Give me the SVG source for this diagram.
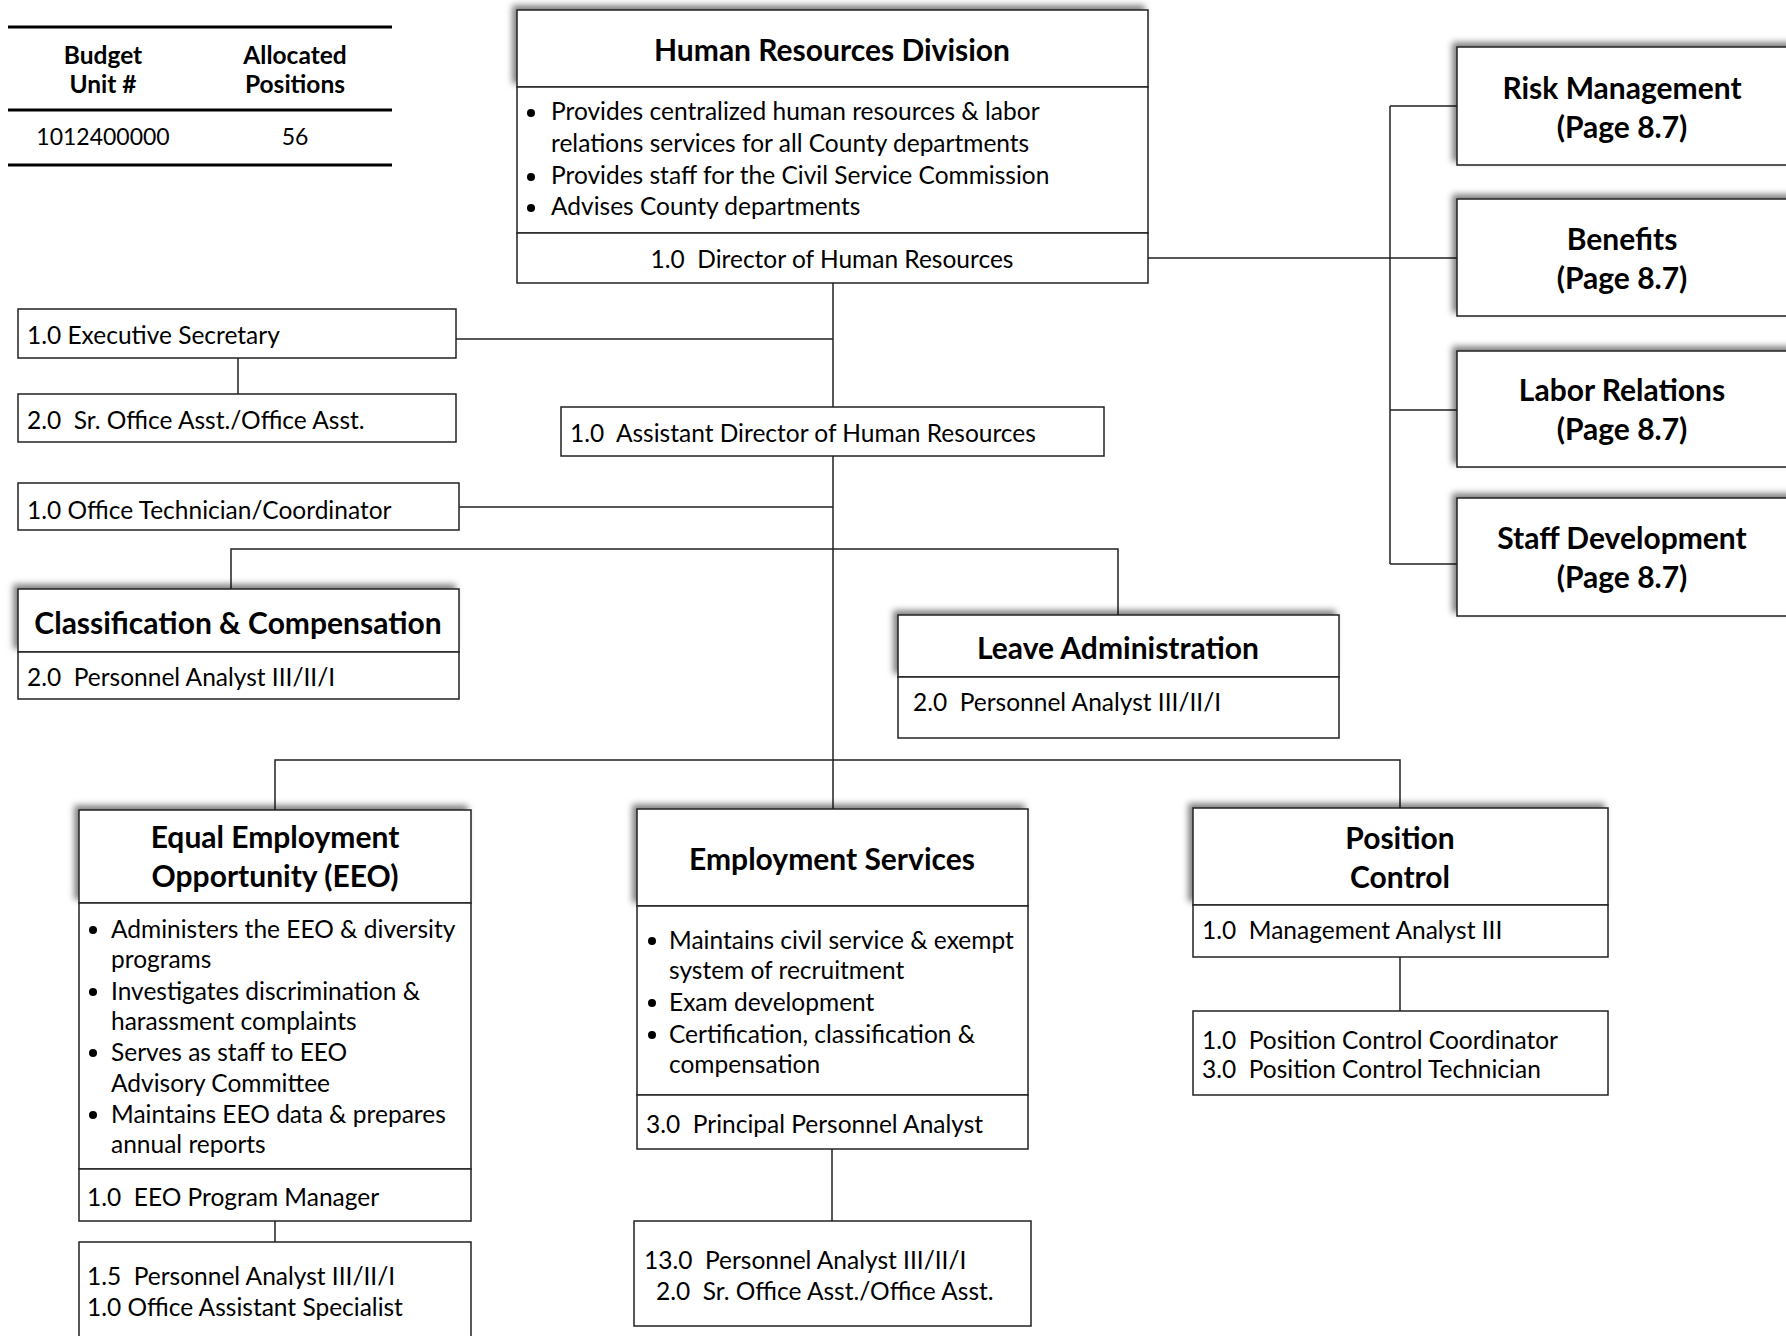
<svg xmlns="http://www.w3.org/2000/svg" width="1786" height="1336" viewBox="0 0 1786 1336">
<defs>
<filter id="sh" x="-15%" y="-40%" width="130%" height="180%">
<feDropShadow dx="-4" dy="-4" stdDeviation="3" flood-color="#000" flood-opacity="0.5"/>
</filter>
</defs>
<style>
text{font-family:Lato,"Liberation Sans",sans-serif;fill:#000;white-space:pre}
.b{font-size:24.5px}
.n{font-size:23px}
.t{font-weight:700;text-anchor:middle}
.h1{font-size:30px}
.h2{font-size:30px}
.c{text-anchor:middle}
.box{fill:#fff;stroke:#222;stroke-width:1.5}
.hd{fill:#fff;stroke:#222;stroke-width:1.5;filter:url(#sh)}
.ln{stroke:#222;stroke-width:1.5;fill:none}
.rule{stroke:#000;stroke-width:3}
</style>
<rect width="1786" height="1336" fill="#fff"/>

<g id="connectors">
<path class="ln" d="M833 283V407M833 456V810"/>
<path class="ln" d="M1148 258H1390M1390 106V564M1390 106H1457M1390 258H1457M1390 410H1457M1390 564H1457"/>
<path class="ln" d="M456 339H833M238 358V394M459 507H833"/>
<path class="ln" d="M231 589V549H1118V615"/>
<path class="ln" d="M275 810V760H1400V808"/>
<path class="ln" d="M275 1221V1242M832 1149V1221M1400 957V1011"/>
</g>

<g id="budget-table">
<line class="rule" x1="8" y1="27" x2="392" y2="27"/>
<line class="rule" x1="8" y1="110" x2="392" y2="110"/>
<line class="rule" x1="8" y1="165" x2="392" y2="165"/>
<text class="b t" x="103" y="64">Budget</text>
<text class="b t" x="103" y="93">Unit #</text>
<text class="b t" x="295" y="64">Allocated</text>
<text class="b t" x="295" y="93">Positions</text>
<text class="n c" x="103" y="145">1012400000</text>
<text class="n c" x="295" y="145">56</text>
</g>

<g id="hr-division">
<rect class="hd" x="517" y="10" width="631" height="77"/>
<rect class="box" x="517" y="87" width="631" height="146"/>
<rect class="box" x="517" y="233" width="631" height="50"/>
<text class="h1 t" x="832" y="61">Human Resources Division</text>
<circle cx="531" cy="113" r="4"/><circle cx="531" cy="177" r="4"/><circle cx="531" cy="208" r="4"/>
<text class="b" x="551" y="120">Provides centralized human resources &amp; labor</text>
<text class="b" x="551" y="152">relations services for all County departments</text>
<text class="b" x="551" y="184">Provides staff for the Civil Service Commission</text>
<text class="b" x="551" y="215">Advises County departments</text>
<text class="b c" x="832" y="268">1.0  Director of Human Resources</text>
</g>

<g id="risk-management">
<rect class="hd" x="1457" y="47" width="345" height="118"/>
<text class="h2 t" x="1622" y="99">Risk Management</text>
<text class="h2 t" x="1622" y="138">(Page 8.7)</text>
</g>
<g id="benefits">
<rect class="hd" x="1457" y="199" width="345" height="117"/>
<text class="h2 t" x="1622" y="250">Benefits</text>
<text class="h2 t" x="1622" y="289">(Page 8.7)</text>
</g>
<g id="labor-relations">
<rect class="hd" x="1457" y="351" width="345" height="116"/>
<text class="h2 t" x="1622" y="401">Labor Relations</text>
<text class="h2 t" x="1622" y="440">(Page 8.7)</text>
</g>
<g id="staff-development">
<rect class="hd" x="1457" y="498" width="345" height="118"/>
<text class="h2 t" x="1622" y="549">Staff Development</text>
<text class="h2 t" x="1622" y="588">(Page 8.7)</text>
</g>

<g id="executive-secretary">
<rect class="box" x="18" y="309" width="438" height="49"/>
<text class="b" x="27" y="344">1.0 Executive Secretary</text>
</g>
<g id="sr-office-asst">
<rect class="box" x="18" y="394" width="438" height="48"/>
<text class="b" x="27" y="429">2.0  Sr. Office Asst./Office Asst.</text>
</g>
<g id="assistant-director">
<rect class="box" x="561" y="407" width="543" height="49"/>
<text class="b" x="570" y="442">1.0  Assistant Director of Human Resources</text>
</g>
<g id="office-technician">
<rect class="box" x="18" y="483" width="441" height="47"/>
<text class="b" x="27" y="519">1.0 Office Technician/Coordinator</text>
</g>

<g id="classification-compensation">
<rect class="hd" x="18" y="589" width="441" height="63"/>
<rect class="box" x="18" y="652" width="441" height="47"/>
<text class="h1 t" x="238" y="634">Classification &amp; Compensation</text>
<text class="b" x="27" y="686">2.0  Personnel Analyst III/II/I</text>
</g>

<g id="leave-administration">
<rect class="hd" x="898" y="615" width="441" height="62"/>
<rect class="box" x="898" y="677" width="441" height="61"/>
<text class="h1 t" x="1118" y="659">Leave Administration</text>
<text class="b" x="913" y="711">2.0  Personnel Analyst III/II/I</text>
</g>

<g id="eeo">
<rect class="hd" x="79" y="810" width="392" height="93"/>
<rect class="box" x="79" y="903" width="392" height="266"/>
<rect class="box" x="79" y="1169" width="392" height="52"/>
<text class="h1 t" x="275" y="848">Equal Employment</text>
<text class="h1 t" x="275" y="887">Opportunity (EEO)</text>
<circle cx="93" cy="930" r="4"/><circle cx="93" cy="992" r="4"/><circle cx="93" cy="1053" r="4"/><circle cx="93" cy="1115" r="4"/>
<text class="b" x="111" y="938">Administers the EEO &amp; diversity</text>
<text class="b" x="111" y="968">programs</text>
<text class="b" x="111" y="1000">Investigates discrimination &amp;</text>
<text class="b" x="111" y="1030">harassment complaints</text>
<text class="b" x="111" y="1061">Serves as staff to EEO</text>
<text class="b" x="111" y="1092">Advisory Committee</text>
<text class="b" x="111" y="1123">Maintains EEO data &amp; prepares</text>
<text class="b" x="111" y="1153">annual reports</text>
<text class="b" x="87" y="1206">1.0  EEO Program Manager</text>
</g>
<g id="eeo-staff">
<rect class="box" x="79" y="1242" width="392" height="110"/>
<text class="b" x="87" y="1285">1.5  Personnel Analyst III/II/I</text>
<text class="b" x="87" y="1316">1.0 Office Assistant Specialist</text>
</g>

<g id="employment-services">
<rect class="hd" x="637" y="809" width="391" height="97"/>
<rect class="box" x="637" y="906" width="391" height="189"/>
<rect class="box" x="637" y="1095" width="391" height="54"/>
<text class="h1 t" x="832" y="870">Employment Services</text>
<circle cx="652" cy="941" r="4"/><circle cx="652" cy="1003" r="4"/><circle cx="652" cy="1035" r="4"/>
<text class="b" x="669" y="949">Maintains civil service &amp; exempt</text>
<text class="b" x="669" y="979">system of recruitment</text>
<text class="b" x="669" y="1011">Exam development</text>
<text class="b" x="669" y="1043">Certification, classification &amp;</text>
<text class="b" x="669" y="1073">compensation</text>
<text class="b" x="646" y="1133">3.0  Principal Personnel Analyst</text>
</g>
<g id="employment-staff">
<rect class="box" x="634" y="1221" width="397" height="105"/>
<text class="b" x="644" y="1269">13.0  Personnel Analyst III/II/I</text>
<text class="b" x="656" y="1300">2.0  Sr. Office Asst./Office Asst.</text>
</g>

<g id="position-control">
<rect class="hd" x="1193" y="808" width="415" height="97"/>
<rect class="box" x="1193" y="905" width="415" height="52"/>
<text class="h1 t" x="1400" y="849">Position</text>
<text class="h1 t" x="1400" y="888">Control</text>
<text class="b" x="1202" y="939">1.0  Management Analyst III</text>
</g>
<g id="position-control-staff">
<rect class="box" x="1193" y="1011" width="415" height="84"/>
<text class="b" x="1202" y="1049">1.0  Position Control Coordinator</text>
<text class="b" x="1202" y="1078">3.0  Position Control Technician</text>
</g>
</svg>
